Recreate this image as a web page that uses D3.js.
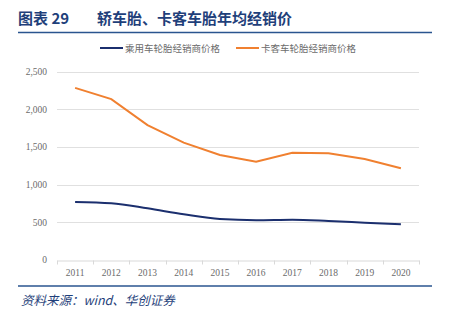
<!DOCTYPE html>
<html>
<head>
<meta charset="utf-8">
<script src="https://cdn.jsdelivr.net/npm/d3@7"></script>
<style>
  body { margin: 0; background: #fff; }
  svg { display: block; }
</style>
</head>
<body>
<div id="chart"></div>
<script>
const years = ["2011", "2012", "2013", "2014", "2015", "2016", "2017", "2018", "2019", "2020"];
const carPrice = [767, 750, 683, 604, 541, 526, 532, 515, 492, 470];
const truckPrice = [2285, 2135, 1790, 1556, 1392, 1303, 1423, 1415, 1339, 1215];
const seriesNames = ["乘用车轮胎经销商价格", "卡客车轮胎经销商价格"];
const yTicks = [0, 500, 1000, 1500, 2000, 2500];

const W = 450, H = 321;
const colors = ["#1B2F6E", "#F08030"];

const svg = d3.select("#chart").append("svg")
  .attr("width", W).attr("height", H);

// header
svg.append("text")
  .attr("x", 18).attr("y", 24)
  .attr("font-family", "Noto Sans CJK SC, sans-serif")
  .attr("font-weight", "bold")
  .attr("font-size", 15)
  .attr("fill", "#1F3F7A")
  .text("图表 29");
svg.append("text")
  .attr("x", 97).attr("y", 24)
  .attr("font-family", "Noto Sans CJK SC, sans-serif")
  .attr("font-weight", "bold")
  .attr("font-size", 15)
  .attr("fill", "#1F3F7A")
  .text("轿车胎、卡客车胎年均经销价");
svg.append("line")
  .attr("x1", 18).attr("x2", 432).attr("y1", 32.5).attr("y2", 32.5)
  .attr("stroke", "#2A558F").attr("stroke-width", 1.6);

// scales
const x = d3.scaleBand().domain(years).range([57, 419]);
const y = d3.scaleLinear().domain([0, 2500]).range([259.7, 71.7]);

// grid
svg.append("g").selectAll("line")
  .data(yTicks.slice(1)).enter().append("line")
  .attr("x1", 57).attr("x2", 419)
  .attr("y1", d => Math.round(y(d)) + 0.5).attr("y2", d => Math.round(y(d)) + 0.5)
  .attr("stroke", "#E0E0E0").attr("stroke-width", 1);

// y axis labels
const yAxis = svg.append("g")
  .attr("transform", "translate(47,0)")
  .call(d3.axisLeft(y).tickValues(yTicks).tickSize(0).tickPadding(0).tickFormat(d3.format(",")));
yAxis.select(".domain").remove();
yAxis.selectAll("text")
  .attr("font-family", "Liberation Serif, serif")
  .attr("font-size", 9.5)
  .attr("fill", "#6b6b6b");

// x axis
const xAxis = svg.append("g")
  .attr("transform", `translate(0,${Math.round(y(0)) + 0.5})`)
  .call(d3.axisBottom(x).tickSize(0).tickPadding(9));
xAxis.select(".domain").attr("stroke", "#D9D9D9");
xAxis.selectAll("text")
  .attr("font-family", "Liberation Serif, serif")
  .attr("font-size", 9.5)
  .attr("fill", "#6b6b6b");
xAxis.selectAll(".bound").data(d3.range(years.length + 1)).enter().append("line")
  .attr("x1", i => Math.round(x.range()[0] + i * x.step()) + 0.5)
  .attr("x2", i => Math.round(x.range()[0] + i * x.step()) + 0.5)
  .attr("y1", 0).attr("y2", 4)
  .attr("stroke", "#D9D9D9");

// lines
const cx = d => x(d) + x.bandwidth() / 2;
const lineCar = d3.line().x((d, i) => cx(years[i])).y(d => y(d)).curve(d3.curveMonotoneX);
const lineTruck = d3.line().x((d, i) => cx(years[i])).y(d => y(d));

svg.append("path").datum(carPrice)
  .attr("d", lineCar).attr("fill", "none")
  .attr("stroke", colors[0]).attr("stroke-width", 2);
svg.append("path").datum(truckPrice)
  .attr("d", lineTruck).attr("fill", "none")
  .attr("stroke", colors[1]).attr("stroke-width", 2);

// legend
const legendX = [100, 236];
const legend = svg.append("g").selectAll("g")
  .data(seriesNames).enter().append("g")
  .attr("transform", (d, i) => `translate(${legendX[i]},48)`);
legend.append("line")
  .attr("x1", 0).attr("x2", 23).attr("y1", 0).attr("y2", 0)
  .attr("stroke", (d, i) => colors[i]).attr("stroke-width", 2);
legend.append("text")
  .attr("x", 25).attr("y", 3.5)
  .attr("font-family", "Noto Sans CJK SC, sans-serif")
  .attr("font-size", 9.5)
  .attr("fill", "#6b6b6b")
  .text(d => d);

// footer
svg.append("line")
  .attr("x1", 18).attr("x2", 432).attr("y1", 286).attr("y2", 286)
  .attr("stroke", "#2A558F").attr("stroke-width", 1.6);
svg.append("text")
  .attr("x", 21).attr("y", 305)
  .attr("font-family", "Noto Sans CJK SC, serif")
  .attr("font-style", "italic")
  .attr("font-size", 12.5)
  .attr("fill", "#1F3F7A")
  .text("资料来源：wind、华创证券");
</script>
</body>
</html>
